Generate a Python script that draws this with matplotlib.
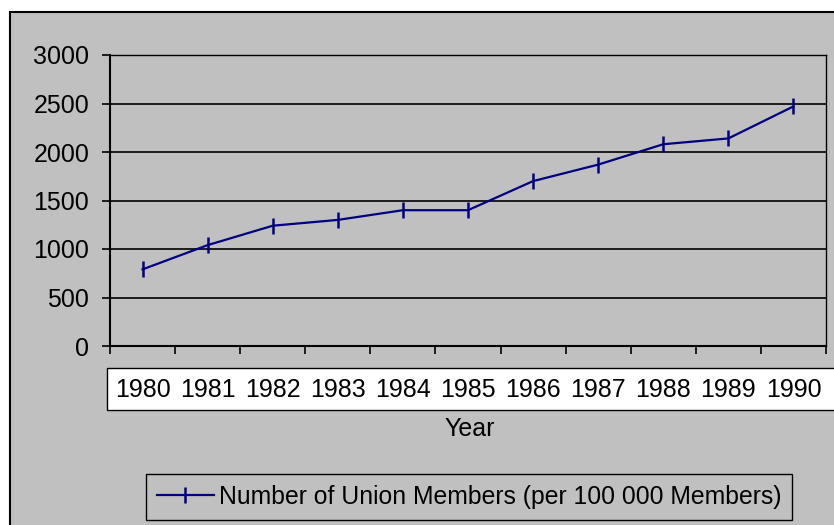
import matplotlib.pyplot as plt
from matplotlib.patches import Rectangle

years = ['1980', '1981', '1982', '1983', '1984', '1985',
         '1986', '1987', '1988', '1989', '1990']
members = [790, 1040, 1240, 1300, 1400, 1400, 1700, 1870, 2080, 2140, 2470]
yticks = [0, 500, 1000, 1500, 2000, 2500, 3000]

W, H = 834, 525
grey = '#c0c0c0'
navy = '#000080'
fs = 18

plt.rcParams['font.family'] = ['Liberation Sans', 'DejaVu Sans']

fig = plt.figure(figsize=(W / 100, H / 100), dpi=100, facecolor='white')

# grey chart area with black border (cut off at right and bottom)
bg = Rectangle((10 / W, -0.1), 1.2, (H - 12) / H + 0.1, transform=fig.transFigure,
               facecolor=grey, edgecolor='black', lw=1.5, zorder=-2)
fig.patches.append(bg)

# white box behind the category labels
lab_box = Rectangle((107 / W, 1 - 410 / H), (W - 107) / W + 0.1, 42 / H,
                    transform=fig.transFigure, facecolor='white',
                    edgecolor='black', lw=1.0, zorder=-1)
fig.patches.append(lab_box)

ax = fig.add_axes([110 / W, 1 - 346 / H, (826 - 110) / W, (346 - 55) / H])
ax.set_facecolor(grey)

x = list(range(len(years)))
line, = ax.plot(x, members, color=navy, lw=1.6, marker='|', markersize=11,
                markeredgewidth=1.8,
                label='Number of Union Members (per 100 000 Members)')

ax.set_xlim(-0.5, len(years) - 0.5)
ax.set_ylim(0, 3000)
ax.set_yticks(yticks)
ax.tick_params(axis='y', length=6, width=1.2, pad=9, labelsize=fs)
ax.yaxis.grid(True, color='black', lw=1.2)
ax.set_axisbelow(True)

# ticks on category boundaries, labels at category centres
ax.set_xticks([i - 0.5 for i in range(len(years) + 1)])
ax.set_xticklabels([])
ax.set_xticks(x, minor=True)
ax.set_xticklabels(years, minor=True)
ax.tick_params(axis='x', which='major', length=6, width=1.2, direction='out')
ax.tick_params(axis='x', which='minor', length=0, pad=23, labelsize=fs)

for side in ['left', 'bottom']:
    ax.spines[side].set_linewidth(1.5)
for side in ['right', 'top']:
    ax.spines[side].set_linewidth(1.0)

fig.text(470 / W, 1 - 429 / H, 'Year', ha='center', va='center', fontsize=fs)

leg = fig.legend(handles=[line], loc='center',
                 bbox_to_anchor=(469 / W, 1 - 497 / H), fontsize=17.8,
                 fancybox=False, frameon=True, edgecolor='black',
                 facecolor=grey, framealpha=1, handlelength=2.3,
                 handletextpad=0.2, borderpad=0.45, borderaxespad=0)
leg.get_frame().set_linewidth(1.0)

fig.savefig('out.png', dpi=100, facecolor='white')
